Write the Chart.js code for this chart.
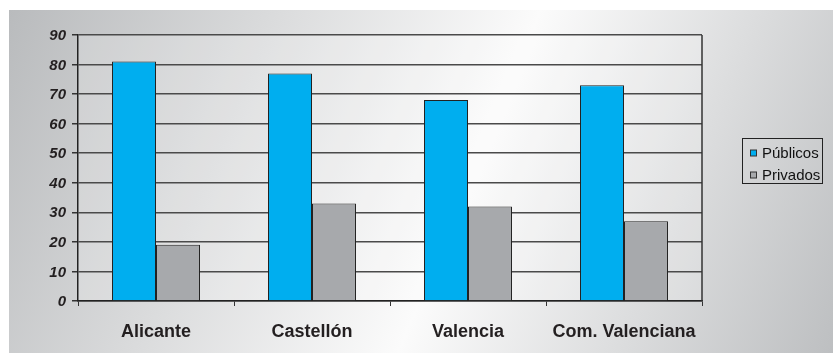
<!DOCTYPE html>
<html>
<head>
<meta charset="utf-8">
<script src="https://cdn.jsdelivr.net/npm/chart.js@4.4.1/dist/chart.umd.min.js"></script>
<style>
    body { margin: 0; background: #fff; }
    canvas { display: block; }
</style>
</head>
<body>
<canvas id="chart" width="833" height="353"></canvas>
<script>
// 数据
const categories = ['Alicante', 'Castellón', 'Valencia', 'Com. Valenciana'];
const publicos = [81, 77, 68, 73];
const privados = [19, 33, 32, 27];
const seriesNames = ['Públicos', 'Privados'];
const seriesColors = ['#00aeef', '#a7a9ac'];

const FONT = '"Liberation Sans", Arial, Helvetica, sans-serif';

// 背景渐变 + 图例框
const decorPlugin = {
    id: 'decor',
    beforeDraw(chart) {
        const c = chart.ctx;
        const w = chart.width, h = chart.height;
        c.save();
        c.fillStyle = '#fff';
        c.fillRect(0, 0, w, h);
        const g = c.createLinearGradient(9, 10, w, h);
        g.addColorStop(0, '#b9bbbd');
        g.addColorStop(0.55, '#fbfbfb');
        g.addColorStop(1, '#bdbfc1');
        c.fillStyle = g;
        c.fillRect(9, 10, w - 9, h - 10);
        const a = chart.chartArea;
        c.fillStyle = 'rgba(255,255,255,0.18)';
        c.fillRect(a.left, a.top, a.right - a.left, a.bottom - a.top);
        c.restore();
    },
    afterDraw(chart) {
        const c = chart.ctx;
        const a = chart.chartArea;
        c.save();
        // 右边框
        c.strokeStyle = '#333';
        c.lineWidth = 1.5;
        c.beginPath();
        c.moveTo(a.right, a.top);
        c.lineTo(a.right, a.bottom);
        c.stroke();

        // y轴标签（斜体）
        const ys = chart.scales.y;
        c.font = 'italic bold 15px ' + FONT;
        c.fillStyle = '#231f20';
        c.textAlign = 'right';
        c.textBaseline = 'middle';
        ys.ticks.forEach(t => {
            c.fillText(String(t.value), a.left - 12, ys.getPixelForValue(t.value) + 1);
        });

        // 图例
        const bx = 742.5, by = 138.5, bw = 80, bh = 45;
        c.strokeStyle = '#222';
        c.lineWidth = 1;
        c.strokeRect(bx, by, bw, bh);
        c.font = '15px ' + FONT;
        c.textAlign = 'left';
        seriesNames.forEach((name, i) => {
            const cy = 153 + i * 22;
            c.fillStyle = seriesColors[i];
            c.fillRect(750.5, cy - 3, 6, 6);
            c.strokeStyle = '#333';
            c.strokeRect(750.5, cy - 3, 6, 6);
            c.fillStyle = '#111';
            c.fillText(name, 762, cy + 1);
        });
        c.restore();
    }
};

const ctx = document.getElementById('chart').getContext('2d');
const chart = new Chart(ctx, {
    type: 'bar',
    data: {
        labels: categories,
        datasets: [{
            label: seriesNames[0],
            data: publicos,
            backgroundColor: seriesColors[0],
            borderColor: '#222',
            borderWidth: 1
        }, {
            label: seriesNames[1],
            data: privados,
            backgroundColor: seriesColors[1],
            borderColor: '#222',
            borderWidth: 1
        }]
    },
    options: {
        responsive: false,
        animation: false,
        layout: {
            padding: { top: 35, right: 131, bottom: 0, left: 0 }
        },
        plugins: {
            legend: { display: false },
            tooltip: { enabled: false }
        },
        datasets: {
            bar: {
                categoryPercentage: 0.564,
                barPercentage: 1
            }
        },
        scales: {
            x: {
                afterFit(scale) { scale.height = 52; },
                grid: {
                    offset: true,
                    drawOnChartArea: false,
                    drawTicks: true,
                    tickLength: 5,
                    tickColor: '#333'
                },
                border: { color: '#222', width: 1.5 },
                ticks: {
                    color: '#231f20',
                    padding: 15,
                    font: { family: FONT, size: 18, weight: 'bold' }
                }
            },
            y: {
                min: 0,
                max: 90,
                afterFit(scale) { scale.width = 78; },
                grid: {
                    color: '#4a4a4a',
                    lineWidth: 1.5,
                    drawTicks: true,
                    tickLength: 6,
                    tickColor: '#333'
                },
                border: { color: '#222', width: 1.5 },
                ticks: {
                    stepSize: 10,
                    display: false
                }
            }
        }
    },
    plugins: [decorPlugin]
});
</script>
</body>
</html>
